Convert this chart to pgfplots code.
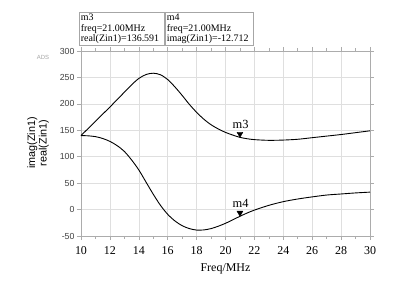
\documentclass[border=0pt]{standalone}
\usepackage{pgfplots}
\pgfplotsset{compat=1.18}
\usepackage{fontspec}
\setmainfont{Liberation Serif}
\setsansfont{Liberation Sans}
\begin{document}
\begin{tikzpicture}[x=1bp,y=1bp]
\useasboundingbox (0,0) rectangle (394,288);
\begin{axis}[
  at={(81bp,52bp)}, anchor=south west,
  width=289bp, height=185bp, scale only axis,
  xmin=10, xmax=30, ymin=-50, ymax=300,
  xtick={10,12,...,30}, minor xtick={11,13,...,29},
  ytick={-50,0,...,300},
  grid=major,
  major grid style={gray!25, line width=0.5pt},
  axis line style={gray!65, line width=0.7pt},
  tick style={gray!65, line width=0.6pt},
  tick align=outside,
  major tick length=4bp, minor tick length=2.5bp,
  xticklabel style={font=\fontsize{12}{13}\selectfont, yshift=-3bp},
  yticklabel style={font=\sffamily\fontsize{8.8}{10}\selectfont, text=black!75, xshift=1bp},
  /pgf/number format/assume math mode=true,
  xlabel={Freq/MHz},
  xlabel style={font=\fontsize{12}{13}\selectfont, yshift=-2bp},
  clip=false,
]
\addplot[black, line width=0.9pt, smooth, tension=0.5] coordinates {
(10,140) (10.5,153.5) (11,167) (11.5,180.5) (12,194) (12.5,208) (13,222) (13.5,236) (14,248) (14.5,255.5) (15,258) (15.5,255) (16,246) (16.5,232) (17,216) (17.5,199) (18,184) (18.5,171) (19,160.5) (19.5,152.5) (20,146) (20.5,141) (21,136.6) (21.5,134) (22,132.3) (23,131) (24,131.5) (25,133) (26,136) (27,139) (28,142) (29,145.5) (30,149)
};
\addplot[black, line width=0.9pt, smooth, tension=0.5] coordinates {
(10,140) (10.5,139.5) (11,138) (11.5,134.5) (12,129) (12.5,121) (13,110) (13.5,94) (14,75) (14.5,52) (15,29) (15.5,8) (16,-9) (16.5,-21.5) (17,-30.5) (17.5,-36) (18,-38.8) (18.5,-38.5) (19,-36) (19.5,-31.5) (20,-26) (20.5,-19.5) (21,-12.7) (21.5,-6.5) (22,-1) (23,8) (24,15) (25,20) (26,24) (27,27.5) (28,29.5) (29,31.5) (30,33)
};
\addplot[only marks, mark=triangle*, mark size=3.4bp, mark options={rotate=180, yshift=-3.4bp, black}] coordinates {(21,136.591)};
\addplot[only marks, mark=triangle*, mark size=3.4bp, mark options={rotate=180, yshift=-3.4bp, black}] coordinates {(21,-12.712)};
\node[font=\fontsize{12.5}{13}\selectfont, anchor=base, inner sep=0pt] at (axis cs:21.05,136.591) [yshift=8.5bp] {m3};
\node[font=\fontsize{12.5}{13}\selectfont, anchor=base, inner sep=0pt] at (axis cs:21.05,-12.712) [yshift=8.5bp] {m4};
\end{axis}
\node[draw=gray!70, line width=0.6pt, anchor=north west, inner sep=1.5bp, align=left,
  font=\fontsize{10}{10.5}\selectfont, text width=82bp] at (79,275.5) {m3\\freq=21.00MHz\\real(Zin1)=136.591};
\node[draw=gray!70, line width=0.6pt, anchor=north west, inner sep=1.5bp, align=left,
  font=\fontsize{10}{10.5}\selectfont, text width=85bp] at (165,275.5) {m4\\freq=21.00MHz\\imag(Zin1)=-12.712};
\node[font=\sffamily\fontsize{6}{7}\selectfont, text=gray!70] at (43,231) {ADS};
\node[rotate=90, font=\sffamily\fontsize{10.8}{11.5}\selectfont, align=center] at (38,145) {imag(Zin1)\\real(Zin1)};
\end{tikzpicture}
\end{document}
